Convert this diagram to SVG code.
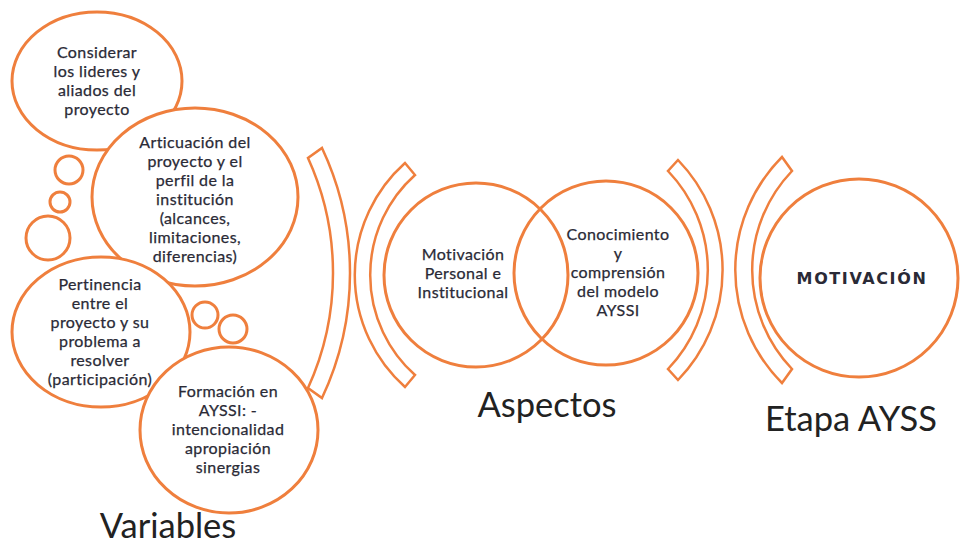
<svg xmlns="http://www.w3.org/2000/svg" width="960" height="544" viewBox="0 0 960 544">
<style>
.o{fill:#fff;stroke:#EF7F3D;stroke-width:3}
.b{fill:#fff;stroke:#EF7F3D;stroke-width:2.5;stroke-linejoin:miter}
.t{font-family:Lato,"Liberation Sans",sans-serif;font-size:16px;letter-spacing:0.4px;fill:#2a2a36;stroke:#2a2a36;stroke-width:0.25;text-anchor:middle}
.h{font-family:Lato,"Liberation Sans",sans-serif;font-size:34.5px;fill:#222;text-anchor:middle}
.m{font-family:"DejaVu Sans",sans-serif;font-weight:bold;font-size:16px;letter-spacing:1.6px;fill:#2a2a36;text-anchor:middle}
</style>
<rect width="960" height="544" fill="#fff"/>
<g id="bubbles-small">
<circle class="o" cx="69" cy="170" r="14"/>
<circle class="o" cx="60" cy="202" r="10"/>
<circle class="o" cx="48" cy="238" r="22"/>
<circle class="o" cx="205" cy="315" r="13"/>
<circle class="o" cx="233" cy="329" r="14"/>
</g>
<g id="n-considerar">
<ellipse class="o" cx="97" cy="81" rx="85" ry="69"/>
<text class="t" x="97" y="58">Considerar</text>
<text class="t" x="97" y="77">los lideres y</text>
<text class="t" x="97" y="96">aliados del</text>
<text class="t" x="97" y="115">proyecto</text>
</g>
<g id="n-articuacion">
<ellipse class="o" cx="195" cy="197" rx="103" ry="89"/>
<text class="t" x="195" y="148">Articuación del</text>
<text class="t" x="195" y="167">proyecto y el</text>
<text class="t" x="195" y="186">perfil de la</text>
<text class="t" x="195" y="205">institución</text>
<text class="t" x="195" y="224">(alcances,</text>
<text class="t" x="195" y="243">limitaciones,</text>
<text class="t" x="195" y="262">diferencias)</text>
</g>
<g id="n-pertinencia">
<ellipse class="o" cx="101" cy="332" rx="89" ry="75"/>
<text class="t" x="100" y="290">Pertinencia</text>
<text class="t" x="100" y="309">entre el</text>
<text class="t" x="100" y="328">proyecto y su</text>
<text class="t" x="100" y="347">problema a</text>
<text class="t" x="100" y="366">resolver</text>
<text class="t" x="100" y="385">(participación)</text>
</g>
<g id="n-formacion">
<ellipse class="o" cx="229" cy="430" rx="89" ry="83"/>
<text class="t" x="228" y="397">Formación en</text>
<text class="t" x="228" y="416">AYSSI: -</text>
<text class="t" x="228" y="435">intencionalidad</text>
<text class="t" x="228" y="454">apropiación</text>
<text class="t" x="228" y="473">sinergias</text>
</g>
<g id="brackets">
<path class="b" d="M308,158 A277,277 0 0 1 308,388 L322,398 A293,293 0 0 0 322,148 Z"/>
<path class="b" d="M405,163 A150,150 0 0 0 405,387 L415,375 A134,134 0 0 1 415,175 Z"/>
<path class="b" d="M668,171 A143,143 0 0 1 668,369 L678,380 A158,158 0 0 0 678,160 Z"/>
<path class="b" d="M782,157 A160,160 0 0 0 782,383 L792,369 A143,143 0 0 1 792,171 Z"/>
</g>
<g id="n-motivacion-personal">
<circle cx="476" cy="275" r="92" fill="none" stroke="#EF7F3D" stroke-width="3"/>
<text class="t" x="463" y="260">Motivación</text>
<text class="t" x="463" y="279">Personal e</text>
<text class="t" x="463" y="298">Institucional</text>
</g>
<g id="n-conocimiento">
<circle cx="606" cy="273" r="92" fill="none" stroke="#EF7F3D" stroke-width="3"/>
<text class="t" x="618" y="240">Conocimiento</text>
<text class="t" x="618" y="259">y</text>
<text class="t" x="618" y="278">comprensión</text>
<text class="t" x="618" y="297">del modelo</text>
<text class="t" x="618" y="316">AYSSI</text>
</g>
<g id="n-motivacion">
<circle class="o" cx="859" cy="278" r="99"/>
<text class="m" x="862" y="284">MOTIVACIÓN</text>
</g>
<g id="labels">
<text class="h" x="168" y="538">Variables</text>
<text class="h" x="547" y="417">Aspectos</text>
<text class="h" x="851" y="431">Etapa AYSS</text>
</g>
</svg>
